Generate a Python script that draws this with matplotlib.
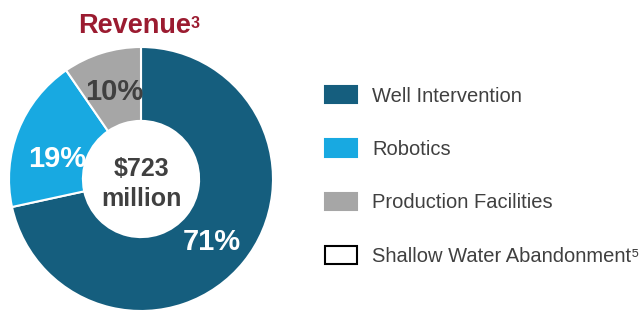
import matplotlib
matplotlib.use("Agg")
import matplotlib.pyplot as plt
from matplotlib.patches import Patch
from matplotlib.text import Annotation
import numpy as np

plt.rcParams['font.family'] = ['Liberation Sans', 'DejaVu Sans']

# revenue share by segment
segments = ["Well Intervention", "Robotics", "Production Facilities", "Shallow Water Abandonment\u2075"]
shares = [71.6, 18.8, 9.6]
pct_labels = ["71%", "19%", "10%"]
seg_colors = ["#155E7E", "#18A9E1", "#A6A6A6", "#FFFFFF"]
center_text = "$723\nmillion"
title = "Revenue"
title_note = "3"

W, H = 643, 310
fig = plt.figure(figsize=(W / 100, H / 100), dpi=100)

# ring axes, centre ~ (141,179) px, radius ~132 px
cx, cy, r = 141, 179, 132
ax = fig.add_axes([(cx - r) / W, (H - cy - r) / H, 2 * r / W, 2 * r / H])
wedges, _ = ax.pie(shares, colors=seg_colors[:3], startangle=90, counterclock=False,
                   radius=1, wedgeprops=dict(width=0.56, edgecolor="white", linewidth=1.5))
ax.set_xlim(-1, 1)
ax.set_ylim(-1, 1)
ax.set_aspect("equal")
ax.axis("off")

# label placement: radius and angle nudge per wedge
lab_r = [0.72, 0.65, 0.69]
lab_nudge = [-3, 8, 0]
lab_col = ["white", "white", "#404040"]
for w, t, rr, dn, c in zip(wedges, pct_labels, lab_r, lab_nudge, lab_col):
    ang = np.deg2rad((w.theta1 + w.theta2) / 2 + dn)
    ax.text(rr * np.cos(ang), rr * np.sin(ang), t, ha="center", va="center",
            fontsize=21, fontweight="bold", color=c)

ax.text(0, -0.04, center_text, ha="center", va="center", fontsize=18,
        fontweight="bold", color="#404040", linespacing=1.3)

# title with superscript note
tt = fig.text((cx - 6) / W, 1 - 26 / H, title, ha="center", va="center", fontsize=19.5,
              fontweight="bold", color="#9B1B30")
sup = Annotation(title_note, xy=(1, 1), xycoords=tt, xytext=(-1, -3), textcoords="offset pixels",
                 fontsize=11.5, fontweight="bold", color="#9B1B30", ha="left", va="top")
fig.add_artist(sup)

handles = [Patch(facecolor=c, edgecolor=("black" if c == "#FFFFFF" else c), linewidth=1.5)
           for c in seg_colors]
leg = fig.legend(handles, segments, loc="upper left", bbox_to_anchor=(325 / W, 1 - 86 / H),
                 frameon=False, fontsize=14.5, handlelength=1.6, handleheight=0.95,
                 handletextpad=0.75, labelspacing=1.68, borderpad=0, borderaxespad=0)
for t in leg.get_texts():
    t.set_color("#404040")

fig.savefig("out.png", dpi=100)
